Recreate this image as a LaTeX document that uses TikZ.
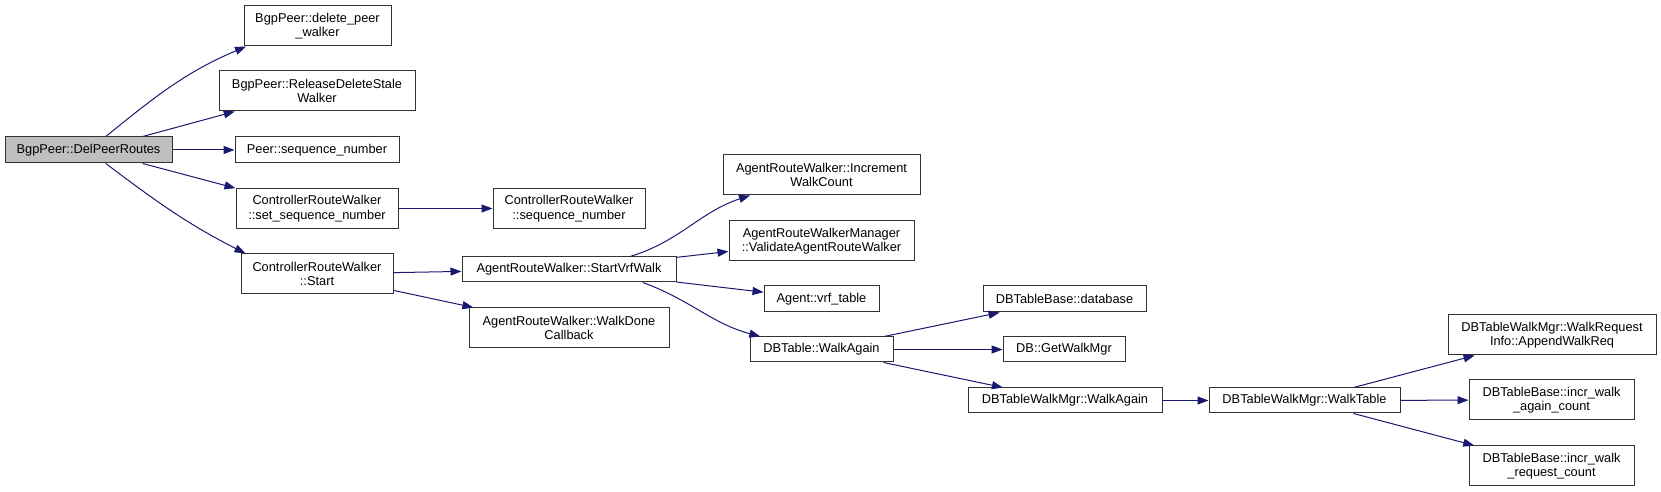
\documentclass[tikz,border=0pt]{standalone}
\usepackage{fontspec}
\setmainfont{Liberation Sans}
\usetikzlibrary{arrows.meta,positioning}
\definecolor{edgeblue}{HTML}{191970}

\begin{document}
\begin{tikzpicture}[
  x=1pt, y=1pt,
  >={Triangle[length=11pt,width=8pt]},
  every node/.style={font=\fontsize{12.8}{14.6}\selectfont},
  func/.style={
    draw=black!80, line width=1pt, fill=white, rectangle,
    align=center, inner sep=2pt, minimum height=26pt
  },
  twoline/.style={func, minimum height=40pt},
  focus/.style={func, fill=black!25},
  call/.style={->, draw=edgeblue, line width=1pt}
]
\useasboundingbox (0,0) rectangle (1661,492);

% --- Root ---
\node[focus, minimum width=167pt] (delpeer) at (88.5,342) {BgpPeer::DelPeerRoutes};

% --- First column ---
\node[twoline, minimum width=147pt] (delwalker) at (317.5,466) {BgpPeer::delete\_peer\\\_walker};
\node[twoline, minimum width=196pt] (relstale) at (317,401) {BgpPeer::ReleaseDeleteStale\\Walker};
\node[func, minimum width=164pt] (peerseq) at (317,342) {Peer::sequence\_number};
\node[twoline, minimum width=162pt] (setseq) at (317,283.5) {ControllerRouteWalker\\::set\_sequence\_number};
\node[twoline, minimum width=152pt] (crwstart) at (317,218) {ControllerRouteWalker\\::Start};

% --- Second column ---
\node[twoline, minimum width=152pt] (crwseq) at (569,283.5) {ControllerRouteWalker\\::sequence\_number};
\node[func, minimum width=214pt, minimum height=25pt] (startvrf) at (569,222.5) {AgentRouteWalker::StartVrfWalk};
\node[twoline, minimum width=200pt] (walkdone) at (569,164) {AgentRouteWalker::WalkDone\\Callback};

% --- Third column ---
\node[twoline, minimum width=197pt] (incwalk) at (821.5,317) {AgentRouteWalker::Increment\\WalkCount};
\node[twoline, minimum width=185pt] (validate) at (821.5,251) {AgentRouteWalkerManager\\::ValidateAgentRouteWalker};
\node[func, minimum width=115pt] (vrftable) at (821.5,193) {Agent::vrf\_table};
\node[func, minimum width=143pt, minimum height=25pt] (dbwalk) at (821.5,142.5) {DBTable::WalkAgain};

% --- Fourth column ---
\node[func, minimum width=163pt] (database) at (1064.5,193) {DBTableBase::database};
\node[func, minimum width=122pt, minimum height=25pt] (getwalkmgr) at (1064,142.5) {DB::GetWalkMgr};
\node[func, minimum width=194pt, minimum height=25pt] (mgrwalk) at (1065,91.5) {DBTableWalkMgr::WalkAgain};

% --- Fifth and sixth column ---
\node[func, minimum width=191pt, minimum height=25pt] (walktable) at (1304.5,91.5) {DBTableWalkMgr::WalkTable};
\node[twoline, minimum width=208pt] (appendreq) at (1552,157) {DBTableWalkMgr::WalkRequest\\Info::AppendWalkReq};
\node[twoline, minimum width=165pt] (incragain) at (1551.5,92) {DBTableBase::incr\_walk\\\_again\_count};
\node[twoline, minimum width=165pt] (incrreq) at (1551.5,26) {DBTableBase::incr\_walk\\\_request\_count};

% --- Calls ---
\draw[call] (delpeer.38) to[out=39, in=203] (delwalker.196);
\draw[call] (delpeer.14) -- (relstale.194);
\draw[call] (delpeer) -- (peerseq);
\draw[call] (delpeer.-14) -- (setseq.166);
\draw[call] (delpeer.-38) to[out=-37, in=153] (crwstart.164);

\draw[call] (setseq) -- (crwseq);
\draw[call] (crwstart) -- (startvrf);
\draw[call] (crwstart) -- (walkdone);

\draw[call] (startvrf.12) to[out=17, in=198] (incwalk.196);
\draw[call] (startvrf) -- (validate);
\draw[call] (startvrf) -- (vrftable);
\draw[call] (startvrf.-10) to[out=-20, in=165] (dbwalk.168);

\draw[call] (dbwalk) -- (database);
\draw[call] (dbwalk) -- (getwalkmgr);
\draw[call] (dbwalk) -- (mgrwalk);

\draw[call] (mgrwalk) -- (walktable);
\draw[call] (walktable) -- (appendreq);
\draw[call] (walktable) -- (incragain);
\draw[call] (walktable) -- (incrreq);

\end{tikzpicture}
\end{document}
